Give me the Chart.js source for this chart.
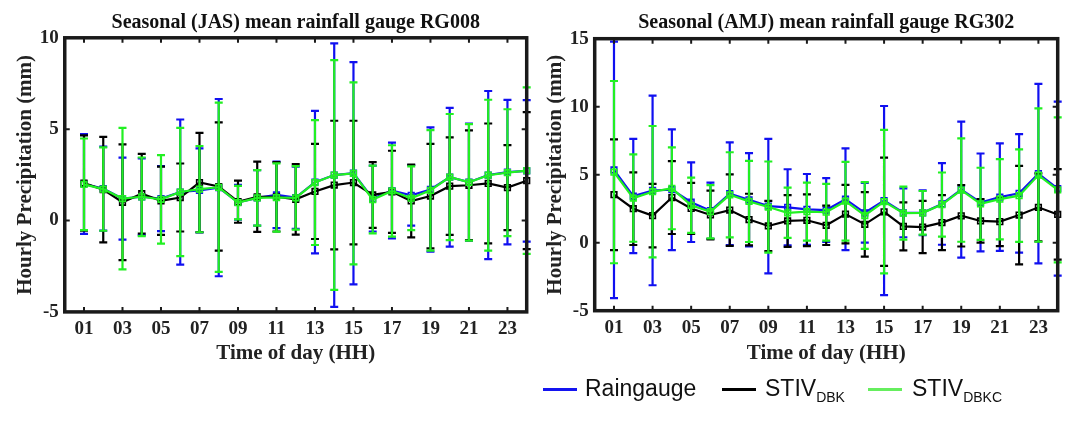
<!DOCTYPE html>
<html><head><meta charset="utf-8">
<script src="https://cdn.jsdelivr.net/npm/chart.js@4.4.1/dist/chart.umd.min.js"></script>
<style>
html,body{margin:0;padding:0;background:#fff;width:1083px;height:422px;overflow:hidden;}
#c1{position:absolute;left:0;top:0;width:545px;height:370px;}
#c2{position:absolute;left:540px;top:0;width:543px;height:370px;}
.leg{position:absolute;font-family:"Liberation Sans",Arial,sans-serif;font-size:23px;line-height:23px;color:#111;white-space:nowrap;}
.sw{position:absolute;height:3px;width:34px;}
.sub{font-size:14px;vertical-align:-6px;}
</style></head>
<body>
<canvas id="c1" width="545" height="370"></canvas>
<canvas id="c2" width="543" height="370"></canvas>
<div class="sw" style="left:543px;top:388px;background:#1414f0"></div>
<div class="leg" style="left:585px;top:377px">Raingauge</div>
<div class="sw" style="left:722px;top:388px;background:#000"></div>
<div class="leg" style="left:765px;top:377px">STIV<span class="sub">DBK</span></div>
<div class="sw" style="left:868px;top:388px;background:#66ee5e"></div>
<div class="leg" style="left:912px;top:377px">STIV<span class="sub">DBKC</span></div>
<script>
// ---- data ----
const hours = [1,2,3,4,5,6,7,8,9,10,11,12,13,14,15,16,17,18,19,20,21,22,23,24];
const xTickValues = [1,3,5,7,9,11,13,15,17,19,21,23];
const xTickLabels = ['01','03','05','07','09','11','13','15','17','19','21','23'];
const seriesNames = ['Raingauge','STIV_DBK','STIV_DBKC'];

// RG008 (JAS)
const rg008RainMean = [2.0,1.75,1.2,1.3,1.2,1.56,1.65,1.8,1.0,1.24,1.4,1.25,2.1,2.49,2.59,1.2,1.64,1.38,1.7,2.37,2.1,2.49,2.65,2.72];
const rg008RainSd   = [2.73,2.3,2.24,2.1,1.78,3.97,2.3,4.85,0.95,1.52,1.82,1.7,3.9,7.21,6.08,1.8,2.62,1.66,3.4,3.8,3.2,4.6,3.95,3.87];
const rg008DbkMean  = [2.05,1.69,1.0,1.47,1.08,1.26,2.08,1.86,1.03,1.3,1.3,1.16,1.59,1.94,2.08,1.4,1.57,1.07,1.34,1.88,1.93,2.03,1.8,2.18];
const rg008DbkSd    = [2.61,2.89,3.17,2.18,1.87,1.86,2.72,3.51,1.15,1.92,1.9,1.93,2.6,3.52,3.38,1.8,2.25,1.99,2.86,2.67,3.0,3.28,2.33,3.75];
const rg008DbkcMean = [1.98,1.72,1.2,1.3,1.16,1.56,1.72,1.82,0.98,1.24,1.26,1.24,2.08,2.49,2.58,1.15,1.62,1.22,1.65,2.38,2.09,2.48,2.62,2.73];
const rg008DbkcSd   = [2.51,2.28,3.87,2.15,2.42,3.51,2.36,4.63,0.92,1.52,1.87,1.74,3.42,6.29,4.98,1.85,2.5,1.74,3.3,3.45,3.19,4.13,3.47,4.56];

// RG302 (AMJ)
const rg302RainMean = [5.35,3.43,3.84,3.9,2.98,2.35,3.6,3.15,2.69,2.6,2.45,2.4,3.2,2.2,3.1,2.2,2.2,2.85,3.9,2.96,3.35,3.63,5.08,3.98];
const rg302RainSd   = [9.43,4.2,6.97,4.44,2.93,2.06,3.78,3.43,4.94,2.8,2.6,2.35,3.74,2.2,6.95,1.8,1.65,3.0,5.0,3.6,3.95,4.36,6.6,6.4];
const rg302DbkMean  = [3.53,2.5,1.99,3.32,2.52,2.04,2.4,1.7,1.23,1.6,1.65,1.28,2.1,1.35,2.27,1.2,1.15,1.48,1.98,1.6,1.55,2.03,2.6,2.08];
const rg302DbkSd    = [4.07,2.67,2.33,2.68,1.88,1.79,2.63,1.9,1.85,1.9,1.9,1.45,2.15,2.37,3.98,1.77,1.92,2.02,2.26,1.6,1.8,3.62,2.5,3.33];
const rg302DbkcMean = [5.19,3.28,3.75,4.0,2.75,2.28,3.52,3.03,2.62,2.2,2.28,2.24,3.05,2.0,3.02,2.17,2.2,2.8,3.87,2.86,3.2,3.46,4.97,3.89];
const rg302DbkcSd   = [6.7,3.21,4.83,3.01,2.03,1.96,3.13,2.98,3.35,1.85,2.13,2.09,2.9,2.45,5.27,1.95,1.6,2.36,3.8,2.65,2.95,3.4,4.9,5.33];

const COLORS = {rain:'#1010f0', dbk:'#000000', dbkc:'#22f022'};
const SERIF = '"Liberation Serif","Times New Roman",serif';

const errorBarPlugin = {
  id: 'errbars',
  beforeDatasetDraw(chart, args) {
    const ds = chart.data.datasets[args.index];
    if (!ds.sd) return;
    const xs = chart.scales.x, ys = chart.scales.y, ctx = chart.ctx;
    ctx.save();
    ctx.strokeStyle = ds.borderColor;
    ctx.lineWidth = 2.2;
    ctx.beginPath();
    ds.data.forEach((p, i) => {
      const x = xs.getPixelForValue(p.x);
      const yT = ys.getPixelForValue(p.y + ds.sd[i]);
      const yB = ys.getPixelForValue(p.y - ds.sd[i]);
      ctx.moveTo(x, yT); ctx.lineTo(x, yB);
      ctx.moveTo(x - 4, yT); ctx.lineTo(x + 4, yT);
      ctx.moveTo(x - 4, yB); ctx.lineTo(x + 4, yB);
    });
    ctx.stroke();
    ctx.restore();
  }
};

const boxPlugin = {
  id: 'box',
  afterDraw(chart, args, opts) {
    const {ctx, chartArea: {left, right, top, bottom}} = chart;
    const xs = chart.scales.x, ys = chart.scales.y;
    ctx.save();
    ctx.strokeStyle = '#1a1a1a';
    ctx.lineWidth = 3.5;
    ctx.strokeRect(left, top, right - left, bottom - top);
    ctx.lineWidth = 2;
    ctx.beginPath();
    xs.ticks.forEach(t => {
      const x = xs.getPixelForValue(t.value);
      ctx.moveTo(x, top); ctx.lineTo(x, top + 5);
      ctx.moveTo(x, bottom); ctx.lineTo(x, bottom - 5);
    });
    ys.ticks.forEach(t => {
      const y = ys.getPixelForValue(t.value);
      ctx.moveTo(left, y); ctx.lineTo(left + 5, y);
      ctx.moveTo(right, y); ctx.lineTo(right - 5, y);
    });
    ctx.stroke();
    ctx.font = 'bold 20px ' + SERIF;
    ctx.fillStyle = '#111';
    ctx.textAlign = 'center';
    ctx.textBaseline = 'middle';
    ctx.fillText(opts.text, (left + right) / 2, opts.y);
    ctx.restore();
  }
};

function mkDs(label, mean, sd, color, order) {
  return {
    label, sd, order,
    data: hours.map((h, i) => ({x: h, y: mean[i]})),
    borderColor: color, backgroundColor: 'rgba(0,0,0,0)',
    borderWidth: 2.2, pointStyle: 'rect', pointRadius: 4,
    pointBorderWidth: 1.6, pointBorderColor: color, pointBackgroundColor: 'rgba(255,255,255,0)',
    tension: 0, clip: false
  };
}

function makeChart(id, cfg) {
  const tickFont = {family: SERIF, size: 19, weight: 'bold'};
  const titleFont = {family: SERIF, size: 21, weight: 'bold'};
  return new Chart(document.getElementById(id), {
    type: 'line',
    data: {datasets: [
      mkDs(seriesNames[0], cfg.rain[0], cfg.rain[1], COLORS.rain, 3),
      mkDs(seriesNames[1], cfg.dbk[0], cfg.dbk[1], COLORS.dbk, 2),
      mkDs(seriesNames[2], cfg.dbkc[0], cfg.dbkc[1], COLORS.dbkc, 1)
    ]},
    options: {
      responsive: false, animation: false, devicePixelRatio: 1,
      layout: {padding: {top: cfg.top, right: cfg.padRight, left: 0, bottom: 0}},
      plugins: {legend: {display: false}, tooltip: {enabled: false}, title: {display: false},
        box: {text: cfg.title, y: 23}},
      scales: {
        x: {type: 'linear', min: 0, max: 24,
          afterBuildTicks: s => { s.ticks = xTickValues.map(v => ({value: v})); },
          afterFit: s => { s.height = cfg.xh; },
          grid: {display: false, drawTicks: false}, border: {display: false},
          ticks: {autoSkip: false, maxRotation: 0, padding: 6, color: '#222', font: tickFont,
            callback: v => xTickLabels[xTickValues.indexOf(v)]},
          title: {display: true, text: 'Time of day (HH)', color: '#222', font: titleFont, padding: {top: 0, bottom: 4}}
        },
        y: {min: cfg.ymin, max: cfg.ymax,
          afterFit: s => { s.width = cfg.yw; },
          grid: {display: false, drawTicks: false}, border: {display: false},
          ticks: {stepSize: 5, padding: 6, color: '#222', font: tickFont},
          title: {display: true, text: 'Hourly Precipitation (mm)', color: '#222', font: titleFont, padding: {top: cfg.ytPad, bottom: 0}}
        }
      }
    },
    plugins: [errorBarPlugin, boxPlugin]
  });
}

makeChart('c1', {
  title: 'Seasonal (JAS) mean rainfall gauge RG008',
  rain: [rg008RainMean, rg008RainSd], dbk: [rg008DbkMean, rg008DbkSd], dbkc: [rg008DbkcMean, rg008DbkcSd],
  ymin: -5, ymax: 10, top: 37.8, padRight: 18.3, xh: 58.1, yw: 64.75, ytPad: 13
});
makeChart('c2', {
  title: 'Seasonal (AMJ) mean rainfall gauge RG302',
  rain: [rg302RainMean, rg302RainSd], dbk: [rg302DbkMean, rg302DbkSd], dbkc: [rg302DbkcMean, rg302DbkcSd],
  ymin: -5, ymax: 15, top: 38.7, padRight: 25.3, xh: 59.3, yw: 54.7, ytPad: 3
});
</script>
</body></html>
